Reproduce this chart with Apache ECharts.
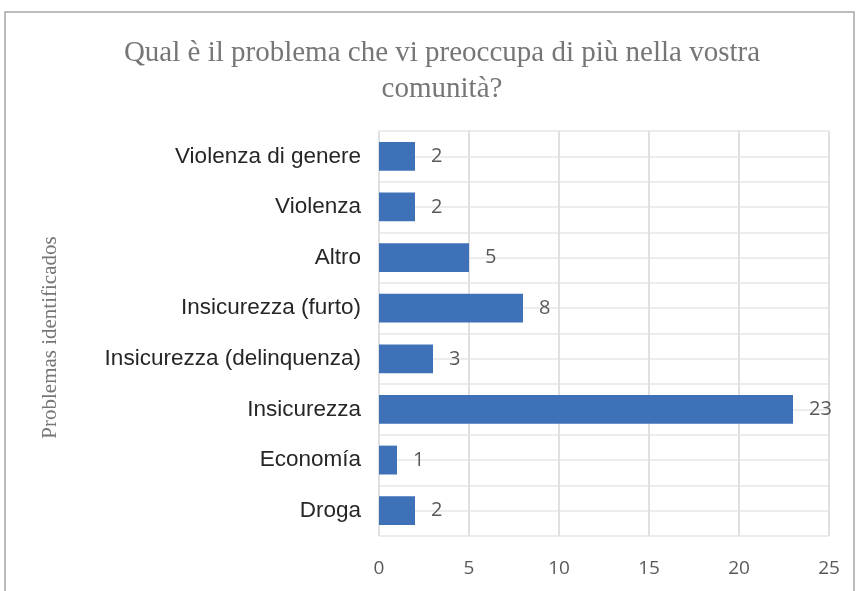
<!DOCTYPE html>
<html><head><meta charset="utf-8">
<script src="https://cdn.jsdelivr.net/npm/echarts@6/dist/echarts.min.js"></script>
<style>html,body{margin:0;padding:0;background:#fff}#c{width:859px;height:591px}</style>
</head><body><div id="c"></div>
<script>
const categories = ['Droga','Economía','Insicurezza','Insicurezza (delinquenza)','Insicurezza (furto)','Altro','Violenza','Violenza di genere'];
const values = [2,1,23,3,8,5,2,2];
const xTicks = [0,5,10,15,20,25];
const titleText = 'Qual è il problema che vi preoccupa di più nella vostra\ncomunità?';
const yName = 'Problemas identificados';

const halfCats = [];
categories.forEach((c,i)=>{halfCats.push(c+'_a');halfCats.push(c+'_b');});

const chart = echarts.init(document.getElementById('c'));
chart.setOption({
  animation:false,
  graphic:[{type:'rect',shape:{x:5,y:12,width:849,height:590},style:{fill:'none',stroke:'#a6a6a6',lineWidth:1.5},z:-1}],
  title:{text:titleText,left:437,textAlign:'center',top:30,
    textStyle:{fontFamily:'Liberation Serif',fontSize:29,fontWeight:'normal',color:'#767676',lineHeight:36}},
  grid:{left:379,right:30,top:131,bottom:55,containLabel:false},
  xAxis:{type:'value',min:xTicks[0],max:xTicks[xTicks.length-1],interval:5,
    axisLine:{show:false},axisTick:{show:false},
    axisLabel:{color:'#595959',fontSize:19,fontFamily:'Open Sans',margin:23},
    splitLine:{show:true,lineStyle:{color:'#e0e0e0',width:2}}},
  yAxis:[{type:'category',data:categories,
    name:yName,nameLocation:'middle',nameGap:318,nameRotate:90,
    nameTextStyle:{fontFamily:'Liberation Serif',fontSize:21,color:'#767676',padding:[0,8,0,0]},
    axisLine:{show:false},axisTick:{show:false},
    axisLabel:{color:'#262626',fontSize:22.5,fontFamily:'Liberation Sans',margin:18},
    splitLine:{show:false}},
   {type:'category',data:halfCats,position:'left',
    axisLine:{show:false},axisTick:{show:false},axisLabel:{show:false},
    splitLine:{show:true,lineStyle:{color:'#ececec',width:2}}}],
  series:[{type:'bar',data:values,yAxisIndex:0,barWidth:'57%',
    itemStyle:{color:'#3f71b8'},
    label:{show:true,position:'right',distance:16,color:'#595959',fontSize:20,fontFamily:'Open Sans'}}]
});
</script></body></html>
